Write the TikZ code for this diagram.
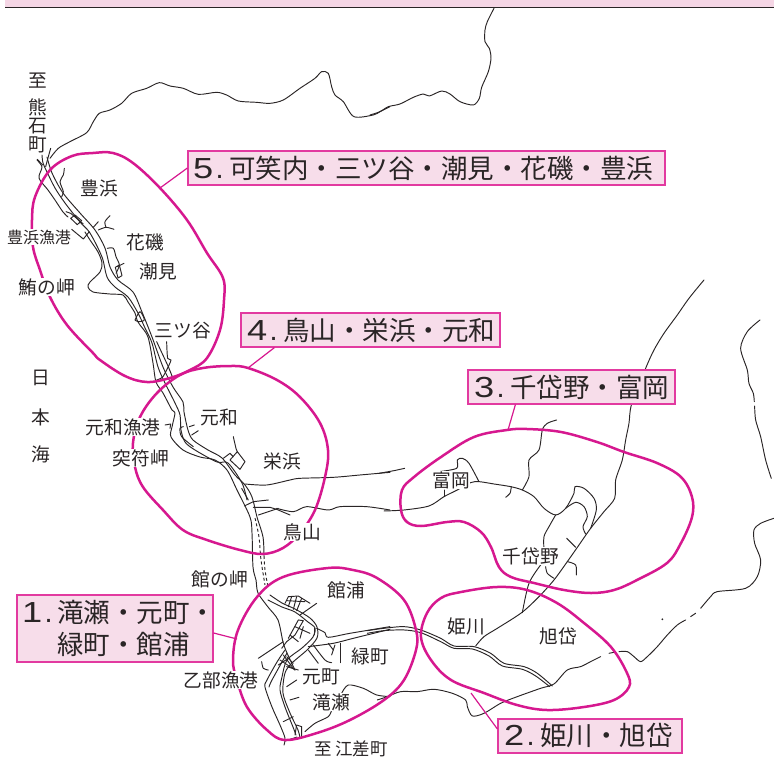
\documentclass[tikz,border=0pt]{standalone}
\usepackage{fontspec}
\newfontfamily\jp{Noto Sans CJK JP}
\newfontfamily\digitfont{Liberation Sans}
\definecolor{mag}{HTML}{D6188F}
\definecolor{boxfill}{HTML}{F7DDEA}
\definecolor{boxline}{HTML}{E23AA0}
\definecolor{hdr}{HTML}{F5D6E5}
\definecolor{ink}{HTML}{2A2526}
\newcommand\sm[1]{plot[smooth,tension=0.5] coordinates {#1}}
\newcommand\blob[1]{plot[smooth cycle,tension=0.6] coordinates {#1}}
\newcommand\boxnum[2][36pt]{\makebox[#1][l]{{\digitfont\fontsize{29}{32}\selectfont\scalebox{1.25}[1]{#2}\hspace{2.5pt}.}}}
\tikzset{
  roadline/.style={draw=ink,line width=0.95pt,line join=round,line cap=round},
  tunnel/.style={draw=ink,line width=0.95pt,dash pattern=on 3pt off 2.5pt},
  areablob/.style={draw=mag,line width=2.5pt},
  lead/.style={draw=mag,line width=1.2pt},
  zoomframe/.style={shift={#1},x=0.3333pt,y=-0.3333pt},
  placename/.style={font=\jp\fontsize{18.7}{19}\selectfont,text=ink,fill=white,inner sep=0.4pt,align=center},
  areabox/.style={draw=boxline,fill=boxfill,line width=1.2pt,text=ink,inner sep=0pt,
     font=\jp\fontsize{26.5}{32}\selectfont,align=left},
}
\begin{document}
\begin{tikzpicture}[x=1pt,y=-1pt]
\useasboundingbox (0,0) rectangle (774,758);
% header band
\fill[hdr] (5,0) rectangle (774,7);
\draw[ink,line width=0.7pt] (5,7.3) -- (774,7.3);
% long boundary lines
\begin{scope}[zoomframe={(0,0)}]
\draw[roadline] \sm{(150,475) (175,445) (210,425) (260,398) (280,365) (298,340) (330,330) (365,310) (395,280) (440,265) (478,248) (510,258) (550,265) (595,283) (650,277) (680,285) (715,303) (770,307) (810,310) (850,300) (900,265) (945,235) (965,215) (985,220) (995,260) (1005,285) (1030,305) (1062,350) (1120,345) (1140,335) (1170,320)};
\end{scope}
\begin{scope}[zoomframe={(380,0)}]
\draw[roadline] \sm{(-30,345) (0,335) (25,320) (60,312) (100,292) (130,282) (148,288) (185,273) (210,282) (240,305) (280,315) (298,295) (305,262) (325,215) (333,175) (328,145) (315,125) (315,90) (322,65) (342,25)};
\end{scope}
\begin{scope}[zoomframe={(384,260)}]
\draw[roadline] \sm{(960,60) (915,115) (880,165) (840,220) (810,270) (785,325) (743,432) (735,490) (725,540) (715,600) (695,660) (692,715) (660,755) (620,805) (585,855) (550,905) (510,960) (465,1010) (413,1058) (340,1105) (300,1130) (275,1158)};
\draw[roadline] \sm{(1128,180) (1090,215) (1070,265) (1090,330) (1095,370) (1108,400) (1111,425)};
\draw[roadline] \sm{(1112,438) (1115,480) (1130,530) (1145,600) (1162,655)};
\draw[roadline] \sm{(1170,775) (1130,790) (1110,810) (1112,850) (1130,900) (1120,950) (1085,985) (1000,995) (980,1010) (950,1045)};
\draw[roadline] (935,1060) -- (920,1070);
\draw[roadline] \sm{(905,1080) (880,1095) (850,1125) (820,1160) (790,1190) (770,1205) (750,1190) (730,1175) (705,1175)};
\draw[roadline] (690,1177) -- (675,1180);
\draw[roadline] \sm{(650,1190) (620,1205) (590,1220) (550,1230) (510,1272) (470,1285) (400,1310) (350,1330) (300,1360) (265,1368) (250,1340) (245,1320) (205,1300) (150,1288) (100,1295) (50,1295) (10,1310) (-20,1320)};
\fill[ink] (835,1078) circle (1pt);
% road to Asahitai
\draw[roadline] \sm{(-50,1112) (0,1105) (60,1100) (110,1110) (170,1135) (210,1158) (270,1160) (320,1180) (360,1210) (420,1220) (460,1240) (505,1278)};
\draw[roadline] \sm{(-50,1120) (0,1112) (60,1110) (110,1118) (170,1145) (210,1165) (265,1167) (315,1188) (355,1218) (415,1228) (455,1248) (497,1280)};
% Tomioka and Chitaino
\draw[roadline] \sm{(0,753) (60,750) (135,738) (180,710) (220,690) (260,668) (285,665) (330,672) (380,680) (415,690) (450,710) (480,745) (515,765) (545,745) (570,700) (573,680) (600,685) (630,715) (637,750) (620,805)};
\draw[roadline] \sm{(545,745) (575,727) (600,740) (610,770) (597,800) (605,822)};
\draw[roadline] \sm{(515,765) (495,800) (480,830) (480,870)};
\draw[roadline] \sm{(470,915) (435,970) (415,1058)};
\draw[roadline] \sm{(485,920) (490,940) (510,955)};
\draw[roadline] \sm{(550,905) (575,915) (577,945)};
\draw[roadline] (548,835) -- (575,862);
\draw[roadline] \sm{(415,690) (435,650) (435,600) (465,570) (475,510) (490,490) (518,480)};
\draw[roadline] (180,710) -- (180,690);
\draw[roadline] \sm{(285,665) (255,610) (235,595) (220,600) (218,625) (165,635)};
\draw[roadline] \sm{(382,680) (378,700) (365,712)};
\draw[roadline] \sm{(-15,640) (30,632) (62,625)};
\end{scope}
% main coastal lines (pixel coordinates)
\draw[roadline] \sm{(42,155) (43,163) (47,172) (55,188) (65,203) (80,222) (90,233) (102,257) (107,277) (115,287) (128,297) (138,313) (145,328) (152,343) (158,367) (165,383) (175,403) (180,415) (181,430) (185,442) (195,450) (217,462) (228,463) (242,483) (247,500)};
\draw[roadline] \sm{(47,157) (52,173) (63,193) (80,213) (95,230) (105,248) (110,267) (118,280) (133,292) (142,312) (152,337) (163,367) (173,387) (183,402) (184,412) (188,430) (193,440) (208,450) (222,458) (235,475) (245,485) (252,497) (257,517) (263,537) (264,556)};
\draw[tunnel] \sm{(264,556) (265,570) (268,587)};
\draw[tunnel] \sm{(255,518) (259,537) (261,560) (265,585)};
\draw[roadline] \sm{(37,160) (42,167) (39,178) (48,190) (55,200) (63,212) (68,217)};
\draw[roadline] \sm{(85,232) (90,240) (98,252) (102,263) (100,272) (90,282) (88,287) (93,292) (110,294) (123,295) (128,302) (135,313) (137,320) (140,325) (148,337) (153,363) (156,382) (163,393) (172,410) (175,413) (172,427) (171,437) (183,450) (200,457) (215,460) (227,470) (237,490) (250,517) (252,533) (253,567) (256,580) (258,593) (268,607) (278,620) (283,642) (287,653) (295,670)};
\draw[roadline] \sm{(268,600) (282,607) (295,612) (308,622) (315,628) (313,637) (302,648) (287,660) (282,677) (280,690) (285,707) (293,727) (296,735)};
\draw[roadline] \sm{(270,595) (282,603) (295,609) (310,618) (317,627) (317,638) (307,650) (292,663) (285,673) (283,693) (290,713) (298,730) (300,738)};
\draw[roadline] \sm{(287,653) (272,680) (269,687)};
\draw[roadline] \sm{(285,650) (277,662) (267,680) (265,687) (272,707) (280,725) (285,738) (284,745)};
\draw[roadline] (285,741) -- (297,737);
% North detail
\begin{scope}[zoomframe={(30,150)}]
\draw[roadline] (22,28) -- (38,45);
\draw[roadline] \sm{(62,-5) (55,20) (47,50)};
\draw[roadline] \sm{(103,55) (100,75) (90,95) (100,125) (95,140)};
\draw[roadline] (125,238) -- (160,267) -- (178,245);
\draw[roadline] (108,185) -- (122,190) -- (160,222);
\draw[roadline] (122,205) -- (135,195) -- (155,212) -- (142,224) -- cycle;
\draw[roadline] (190,232) -- (205,215);
\draw[roadline] \sm{(205,240) (228,232) (252,238)};
\draw[roadline] \sm{(228,232) (225,215) (240,197)};
\draw[roadline] \sm{(232,295) (250,295) (258,320) (268,345) (258,370)};
\draw[roadline] (262,350) -- (282,340);
\draw[roadline] (256,352) -- (268,345) -- (276,377) -- (264,384) -- cycle;
\end{scope}
\begin{scope}[zoomframe={(85,270)}]
\draw[roadline] \sm{(150,150) (165,125) (178,150) (160,155) (150,150)};
\draw[roadline] \sm{(245,215) (248,265) (258,270) (245,300) (232,322) (215,330)};
\draw[roadline] (215,215) -- (250,290) -- (262,320);
\end{scope}
\begin{scope}[zoomframe={(150,400)}]
\draw[roadline] (45,75) -- (62,72) -- (60,85);
\draw[roadline] (118,80) -- (133,75);
\draw[roadline] (125,105) -- (145,92);
\draw[roadline] \sm{(100,80) (90,85) (95,110) (130,140)};
\draw[roadline] \sm{(250,110) (258,145) (262,155)};
\draw[roadline] (262,155) -- (285,185) -- (270,208) -- (240,180) -- cycle;
\draw[roadline] (220,175) -- (240,160) -- (250,170);
\draw[roadline] (275,265) -- (295,300);
\draw[roadline] (283,318) -- (310,305) -- (355,300);
\draw[roadline] (310,322) -- (360,322) -- (380,328) -- (420,345);
\draw[roadline] (325,345) -- (385,325);
\end{scope}
\begin{scope}[zoomframe={(0,360)}]
\draw[roadline] \sm{(830,445) (880,455) (920,440) (985,450) (1020,440) (1100,440) (1170,450)};
\draw[roadline] \sm{(735,372) (800,375) (870,360) (900,355) (1000,352) (1080,345) (1170,337)};
\draw[roadline] \sm{(950,805) (975,818) (985,832) (1050,820) (1170,800)};
\draw[roadline] \sm{(925,860) (1000,850) (1060,835) (1170,808)};
\draw[roadline] (945,805) -- (945,825);
\draw[roadline] \sm{(925,870) (955,910)};
\draw[roadline] \sm{(940,855) (975,900) (995,908)};
\draw[roadline] (985,850) -- (1000,870);
\draw[roadline] (1005,855) -- (995,885);
\draw[roadline] (1022,850) -- (1022,908);
\draw[roadline] \sm{(915,1115) (945,1090) (985,1070) (995,1050)};
\draw[roadline] \sm{(1025,1000) (1045,975) (1090,985) (1130,1005) (1170,1010)};
\draw[roadline] (885,1125) -- (890,1095) -- (905,1100) -- (905,1130);
\draw[roadline] (870,1020) -- (897,1012);
\draw[roadline] (850,1085) -- (880,1070);
\end{scope}
\begin{scope}[zoomframe={(245,570)}]
\draw[roadline] (120,100) -- (130,80) -- (160,78) -- (195,100);
\draw[roadline] (215,100) -- (165,135);
\draw[roadline] (125,92) -- (180,95);
\draw[roadline] (140,80) -- (130,110);
\draw[roadline] (155,80) -- (145,118);
\draw[roadline] (170,85) -- (155,122);
\draw[roadline] (160,150) -- (175,152) -- (150,195) -- (125,215) -- (110,235);
\draw[roadline] (160,150) -- (130,205);
\draw[roadline] (135,195) -- (160,215);
\draw[roadline] (150,170) -- (195,190);
\draw[roadline] (175,170) -- (165,205);
\draw[roadline] (40,265) -- (85,235) -- (115,215);
\draw[roadline] (105,270) -- (150,300);
\draw[roadline] (125,260) -- (145,280);
\end{scope}
\begin{scope}[zoomframe={(245,650)}]
\draw[roadline] \sm{(50,35) (55,55) (70,60)};
\draw[roadline] (100,45) -- (130,25);
\draw[roadline] (115,15) -- (145,55);
\draw[roadline] (125,50) -- (160,60);
\draw[roadline] (155,90) -- (125,110);
\end{scope}
% area outlines
\draw[areablob] \blob{(113,153) (133,163) (160,188) (187,220) (207,253) (223,278) (224,300) (220,330) (207,358) (190,370) (170,378) (147,382) (125,376) (100,360) (93,353) (67,325) (50,297) (40,270) (33,247) (32,220) (35,197) (50,170) (72,156) (93,153)};
\draw[areablob] \blob{(230,366) (248,368) (277,380) (300,397) (320,423) (328,450) (325,477) (315,510) (300,533) (283,548) (263,554) (240,550) (207,540) (183,530) (163,510) (143,487) (135,467) (133,443) (140,417) (157,393) (180,375) (203,368)};
\draw[areablob] \blob{(328,568) (353,570) (377,578) (404,600) (416,630) (416,650) (404,680) (384,700) (350,720) (317,733) (285,740) (267,730) (247,707) (237,680) (233,660) (238,630) (257,597) (283,577)};
\draw[areablob] \blob{(497,587) (527,590) (557,603) (584,623) (611,647) (627,673) (629,687) (614,700) (584,707) (547,710) (517,705) (484,693) (451,680) (431,660) (421,637) (427,613) (441,598) (461,592)};
\draw[areablob] \blob{(507,430) (527,429) (561,432) (597,442) (624,452) (657,463) (681,477) (692,497) (692,517) (681,543) (667,563) (637,580) (614,590) (591,593) (564,590) (534,583) (511,577) (499,567) (491,547) (481,532) (464,522) (447,522) (421,526) (407,522) (401,510) (402,490) (414,477) (441,457) (474,437)};
% place names
\node[placename] (ito) at (38,81) {至};
\node[placename] (ikuma) at (38,107) {熊};
\node[placename] (iishi) at (38,126) {石};
\node[placename] (imachi) at (38,144.5) {町};
\node[placename] (toyohama) at (99,188) {豊浜};
\node[placename,font=\jp\fontsize{16}{17}\selectfont] (toyoport) at (39,237) {豊浜漁港};
\node[placename] (hanaiso) at (145,242) {花磯};
\node[placename] (shiomi) at (158,271) {潮見};
\node[placename] (tsuna) at (47,287) {鮪の岬};
\node[placename] (mitsuya) at (183,331) {三ツ谷};
\node[placename] (nichi) at (41,378) {日};
\node[placename] (hon) at (41,417) {本};
\node[placename] (kai) at (41,454) {海};
\node[placename] (motowa) at (219,417) {元和};
\node[placename] (motoport) at (123,427) {元和漁港};
\node[placename] (toppu) at (141,458) {突符岬};
\node[placename] (sakae) at (282,461) {栄浜};
\node[placename] (torisan) at (302,532) {鳥山};
\node[placename] (tatemisaki) at (220,579) {館の岬};
\node[placename] (tateura) at (346,590) {館浦};
\node[placename] (midori) at (370,656) {緑町};
\node[placename] (motomachi) at (321,677) {元町};
\node[placename] (takise) at (331,702) {滝瀬};
\node[placename] (otobe) at (221,680) {乙部漁港};
\node[placename,fill=none,inner sep=0pt,font=\jp\fontsize{17.5}{18}\selectfont] (esashi) at (351,748.5) {至 江差町};
\node[placename] (himekawa) at (466,626) {姫川};
\node[placename] (asahi) at (558,636) {旭岱};
\node[placename] (chitaino) at (531,556) {千岱野};
\node[placename] (tomioka) at (451,480) {富岡};
% leaders and boxes
\node[areabox,minimum width=477pt,minimum height=34pt,text width=477pt] (box5) at (426.5,168) {\hspace*{5pt}\boxnum{5}可笑内・三ツ谷・潮見・花磯・豊浜};
\node[areabox,minimum width=259pt,minimum height=34pt,text width=259pt] (box4) at (370.5,330) {\hspace*{6pt}\boxnum{4}鳥山・栄浜・元和};
\node[areabox,minimum width=207pt,minimum height=34pt,text width=207pt] (box3) at (571.5,387) {\hspace*{6pt}\boxnum{3}千岱野・富岡};
\node[areabox,minimum width=184pt,minimum height=34pt,text width=184pt] (box2) at (590,736) {\hspace*{6pt}\boxnum{2}姫川・旭岱};
\node[areabox,minimum width=196pt,minimum height=67pt,text width=196pt] (box1) at (115,628.5) {\hspace*{5pt}\boxnum[35pt]{1}滝瀬・元町・\\\hspace*{40pt}緑町・館浦};
\coordinate (end5) at (160,188);
\coordinate (end4) at (248,368);
\coordinate (end3) at (508,430);
\coordinate (end2) at (471,693);
\coordinate (end1) at (237,639);
\draw[lead] (box5.west) -- (end5);
\draw[lead] ([xshift=34pt]box4.south west) -- (end4);
\draw[lead] ([xshift=48pt]box3.south west) -- (end3);
\draw[lead] ([yshift=7pt]box2.west) -- (end2);
\draw[lead] ([yshift=-4.5pt]box1.east) -- (end1);
\end{tikzpicture}
\end{document}
